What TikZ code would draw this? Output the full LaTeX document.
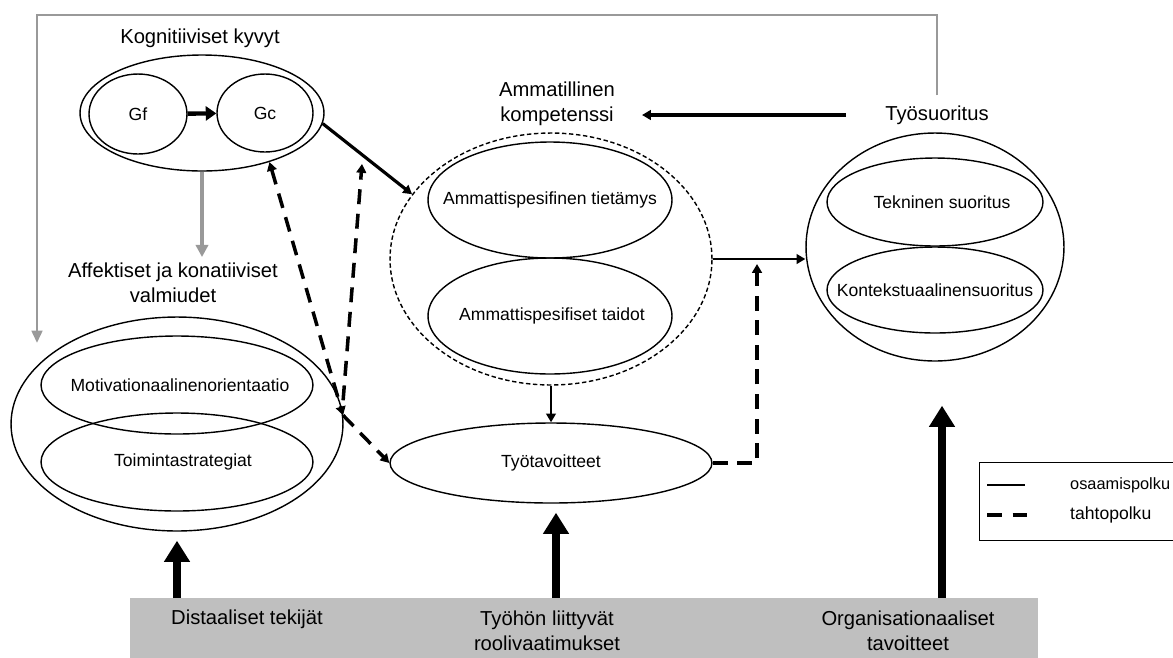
\documentclass[tikz,border=0pt]{standalone}
\usepackage{fontspec}
\setmainfont{Liberation Sans}
\usetikzlibrary{shapes.geometric,arrows.meta}
\begin{document}
\begin{tikzpicture}[
  x=0.02cm, y=-0.02cm,
  >={Triangle[length=5pt,width=5.5pt]},
  every node/.style={font=\fontsize{11.5}{14}\selectfont, align=center},
  ell/.style={draw, ellipse, inner sep=0pt, line width=0.8pt},
  intext/.style={font=\fontsize{10}{12}\selectfont},
  solidpath/.style={line width=1.3pt, ->},
  dashpath/.style={line width=2pt, dash pattern=on 8.5pt off 5.5pt, ->},
  feedback/.style={draw=black!40, line width=1.6pt, -{Triangle[length=7pt,width=6pt]}},
  bigarrow/.style={line width=4.5pt, -{Triangle[length=12pt,width=14pt]}}
]
  \useasboundingbox (0,0) rectangle (1173,657);
  \clip (0,0) rectangle (1173,657);

  \node (koglabel) at (200,38) {Kognitiiviset kyvyt};
  \node[ell, minimum width=4.88cm, minimum height=2.32cm] (kog) at (202,113) {};
  \node[ell, intext, minimum width=1.96cm, minimum height=1.6cm] (gf) at (138,114) {Gf};
  \node[ell, intext, minimum width=1.92cm, minimum height=1.56cm] (gc) at (265,113) {Gc};

  \node (afflabel) at (173,283) {Affektiset ja konatiiviset\\valmiudet};
  \node[ell, minimum width=6.64cm, minimum height=4.28cm] (affekt) at (177,424) {};
  \node[ell, minimum width=5.44cm, minimum height=1.96cm,
    label={[intext, xshift=0.06cm]center:Motivationaalinenorientaatio}] (motiv) at (177,385) {};
  \node[ell, minimum width=5.44cm, minimum height=1.96cm,
    label={[intext, xshift=0.12cm]center:Toimintastrategiat}] (toimin) at (177,462) {};

  \node (ammlabel) at (557,104) {Ammatillinen\\kompetenssi};
  \node[ell, dash pattern=on 2.5pt off 1.5pt, minimum width=6.44cm, minimum height=5.04cm] (amm) at (551,259) {};
  \node[ell, minimum width=4.88cm, minimum height=2.32cm,
    label={[intext]center:Ammattispesifinen tietämys}] (tietamys) at (550,200) {};
  \node[ell, minimum width=4.88cm, minimum height=2.32cm,
    label={[intext, xshift=0.04cm]center:Ammattispesifiset taidot}] (taidot) at (550,316) {};
  \node[ell, intext, minimum width=6.44cm, minimum height=1.6cm] (tyotav) at (551,463) {Työtavoitteet};

  \node (tslabel) at (937,115) {Työsuoritus};
  \node[ell, minimum width=5.16cm, minimum height=4.56cm] (tyosuor) at (935,247) {};
  \node[ell, minimum width=4.32cm, minimum height=1.76cm,
    label={[intext, xshift=0.14cm]center:Tekninen suoritus}] (tekn) at (935,202) {};
  \node[ell, minimum width=4.32cm, minimum height=1.72cm,
    label={[intext]center:Kontekstuaalinensuoritus}] (kontek) at (935,290) {};

  \node[fill=black!25, inner sep=0pt, minimum width=18.16cm, minimum height=1.4cm,
    anchor=north west] (bar) at (130,598) {};
  \node (distal) at (247,619) {Distaaliset tekijät};
  \node (rooli) at (547,631) {Työhön liittyvät\\roolivaatimukset};
  \node (orgtav) at (908,631) {Organisationaaliset\\tavoitteet};

  \node[draw, line width=0.8pt, inner sep=0pt, minimum width=4.6cm, minimum height=1.56cm,
    anchor=north west] (legend) at (979,462) {};
  \node[font=\fontsize{9.3}{11}\selectfont, anchor=west] (osaam) at (1064,485) {osaamispolku};
  \node[intext, anchor=west] (tahto) at (1064,515) {tahtopolku};
  \draw[line width=1.6pt] ([xshift=-1.54cm]osaam.west) -- ++(38,0);
  \draw[line width=2pt, dash pattern=on 8.5pt off 6pt] ([xshift=-1.54cm]tahto.west) -- ++(43,0);

  \coordinate (fbtop) at (37,15);
  \coordinate (fbend) at (37,343);
  \coordinate (modA) at (362,164);
  \coordinate (modB) at (757,264);
  \coordinate (distip) at ([yshift=-0.18cm]affekt.south);
  \coordinate (rooltip) at ([xshift=0.1cm, yshift=-0.18cm]tyotav.south);
  \coordinate (orgtip) at ([xshift=0.14cm, yshift=-0.88cm]tyosuor.south);

  \draw[line width=2.5pt, -{Triangle[length=6pt,width=8pt]}] (gf) -- (gc);
  \draw[solidpath, line width=1.8pt] (kog.-5) -- (amm.155);
  \draw[draw=black!40, line width=2pt, -{Triangle[length=7pt,width=7pt]}]
    (kog.south) -- (kog.south |- afflabel.north);
  \draw[feedback, shorten <=0.08cm] (tslabel.north) |- (fbtop) -- (fbend);
  \draw[solidpath, line width=2pt, shorten <=0.66cm, shorten >=0.42cm]
    (tslabel.west) -- (tslabel.west -| ammlabel.east);
  \draw[solidpath, line width=1.6pt] (amm.east) -- (amm.east -| tyosuor.west);
  \draw[solidpath] (amm.south) -- (tyotav.north);

  \draw[dashpath] (tyotav.east) -| (modB);
  \draw[dashpath, <->] (kog.-36) -- (affekt.3);
  \draw[dashpath] (affekt.3) -- (tyotav.west);
  \draw[dashpath] ([yshift=0.3cm]affekt.3) -- (modA);

  \draw[bigarrow] (distip |- bar.north) -- (distip);
  \draw[bigarrow] (rooltip |- bar.north) -- (rooltip);
  \draw[bigarrow] (orgtip |- bar.north) -- (orgtip);
\end{tikzpicture}
\end{document}
